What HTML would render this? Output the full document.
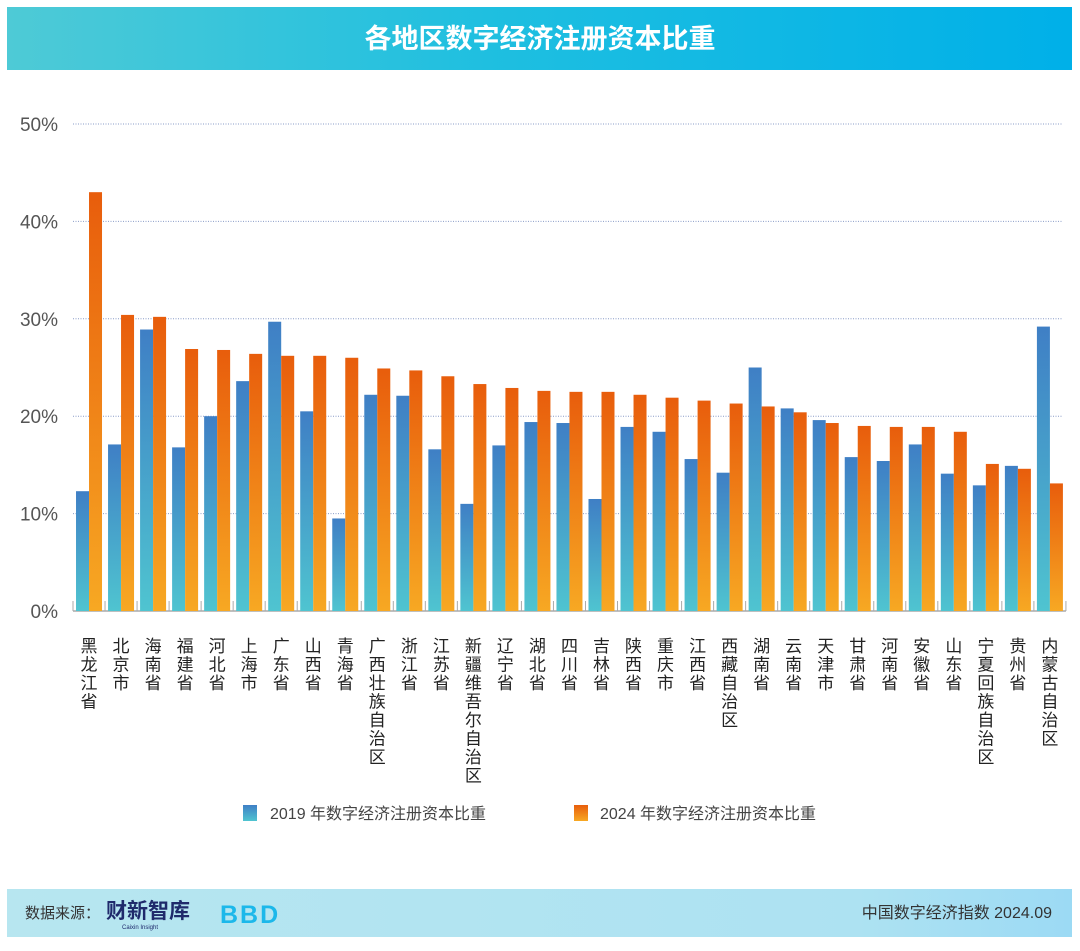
<!DOCTYPE html>
<html><head><meta charset="utf-8"><style>
body{margin:0;background:#fff;width:1080px;height:946px;overflow:hidden;font-family:"Liberation Sans","Noto Sans CJK SC",sans-serif}
</style></head><body>
<svg width="1080" height="946" xmlns="http://www.w3.org/2000/svg">
<defs>
<linearGradient id="hdr" x1="0" x2="1"><stop offset="0" stop-color="#4ecad6"/><stop offset="0.45" stop-color="#1fbfe0"/><stop offset="1" stop-color="#00b0e8"/></linearGradient>
<linearGradient id="ftr" x1="0" x2="1"><stop offset="0" stop-color="#b7e6f0"/><stop offset="0.8" stop-color="#ade2f2"/><stop offset="1" stop-color="#9cdaf4"/></linearGradient>
<linearGradient id="gb" x1="0" y1="0" x2="0" y2="1"><stop offset="0" stop-color="#3f7fc5"/><stop offset="1" stop-color="#4fc4d0"/></linearGradient>
<linearGradient id="go" x1="0" y1="0" x2="0" y2="1"><stop offset="0" stop-color="#e85d0c"/><stop offset="1" stop-color="#f7a823"/></linearGradient>
</defs>
<rect x="7" y="7" width="1065" height="63" fill="url(#hdr)"/>
<text x="540" y="48" text-anchor="middle" font-size="27" font-weight="bold" fill="#fff">各地区数字经济注册资本比重</text>
<g id="grid"></g>
<g id="bars"></g>
<g id="labels"></g>
<g>
<rect x="243" y="805" width="14" height="16" fill="url(#gb)"/>
<text x="270" y="819" font-size="16" fill="#444">2019 年数字经济注册资本比重</text>
<rect x="574" y="805" width="14" height="16" fill="url(#go)"/>
<text x="600" y="819" font-size="16" fill="#444">2024 年数字经济注册资本比重</text>
</g>
<rect x="7" y="889" width="1065" height="48" fill="url(#ftr)"/>
<text x="25" y="918" font-size="15" fill="#333">数据来源：</text>
<text x="106" y="918" font-size="21" font-weight="bold" fill="#1f2a6b">财新智库</text>
<text x="122" y="929" font-size="6" fill="#1f2a6b">Caixin Insight</text>
<text x="220" y="923" font-size="25" font-weight="bold" fill="#1cb8ea" letter-spacing="2">BBD</text>
<text x="1052" y="918" text-anchor="end" font-size="16" fill="#333">中国数字经济指数 2024.09</text>
</svg>
<script>
const categories=["黑龙江省","北京市","海南省","福建省","河北省","上海市","广东省","山西省","青海省","广西壮族自治区","浙江省","江苏省","新疆维吾尔自治区","辽宁省","湖北省","四川省","吉林省","陕西省","重庆市","江西省","西藏自治区","湖南省","云南省","天津市","甘肃省","河南省","安徽省","山东省","宁夏回族自治区","贵州省","内蒙古自治区"];
const values2019=[12.3,17.1,28.9,16.8,20.0,23.6,29.7,20.5,9.5,22.2,22.1,16.6,11.0,17.0,19.4,19.3,11.5,18.9,18.4,15.6,14.2,25.0,20.8,19.6,15.8,15.4,17.1,14.1,12.9,14.9,29.2];
const values2024=[43.0,30.4,30.2,26.9,26.8,26.4,26.2,26.2,26.0,24.9,24.7,24.1,23.3,22.9,22.6,22.5,22.5,22.2,21.9,21.6,21.3,21.0,20.4,19.3,19.0,18.9,18.9,18.4,15.1,14.6,13.1];
const yTicks=[0,10,20,30,40,50];
const NS="http://www.w3.org/2000/svg";
const y0=611,yTop=124,yMax=50,xL=73,step=32.03,bw=13;
const yS=v=>y0-(v/yMax)*(y0-yTop);
const xS=i=>xL+i*step;
function mk(t,a,p){const e=document.createElementNS(NS,t);for(const k in a)e.setAttribute(k,a[k]);p.appendChild(e);return e;}
const grid=document.getElementById('grid');
yTicks.forEach(t=>{
 const y=yS(t);
 if(t>0){const l=mk('line',{x1:73,x2:1062,y1:y,y2:y,stroke:'#8a9cc8','stroke-width':1,'stroke-dasharray':'1 1.5'},grid);
 
 }
 const tx=mk('text',{x:58,y:y+7,'text-anchor':'end','font-size':19,fill:'#555'},grid);
 tx.textContent=t+'%';
 
 
});
const ax=mk('line',{x1:xL,x2:xS(categories.length),y1:y0,y2:y0,stroke:'#aaa','stroke-width':1.5},grid);


for(let i=0;i<=categories.length;i++){const tk=mk('line',{x1:xS(i),x2:xS(i),y1:y0,y2:y0-10,stroke:'#aaa','stroke-width':1},grid);

}
const bars=document.getElementById('bars'),labels=document.getElementById('labels');
categories.forEach((c,i)=>{
 const cx=xS(i)+step/2;
 const b1=mk('rect',{x:cx-bw,y:yS(values2019[i]),width:bw,height:y0-yS(values2019[i]),fill:'url(#gb)'},bars);
 
 
 const b2=mk('rect',{x:cx,y:yS(values2024[i]),width:bw,height:y0-yS(values2024[i]),fill:'url(#go)'},bars);
 
 
 const t=mk('text',{'font-size':17,fill:'#222','text-anchor':'middle'},labels);
 
 
 [...c].forEach((ch,k)=>{const s=mk('tspan',{x:cx,y:652+k*18.5},t);s.textContent=ch;});
});
</script>
</body></html>
